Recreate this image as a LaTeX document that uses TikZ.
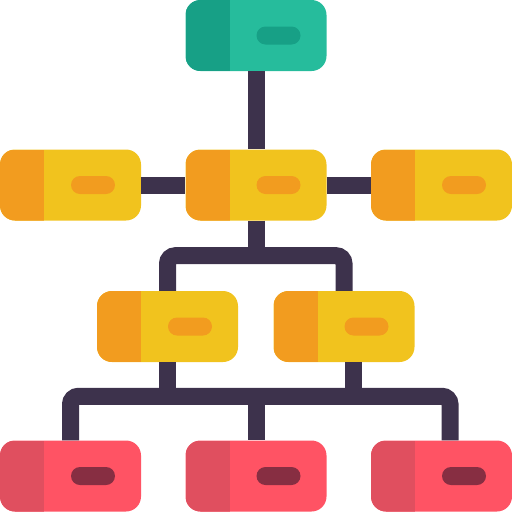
\documentclass[tikz,border=0pt]{standalone}
\usetikzlibrary{calc}
\definecolor{linkcol}{HTML}{3D324C}
\definecolor{greenmain}{HTML}{26BC9C}
\definecolor{greendark}{HTML}{17A086}
\definecolor{yellowmain}{HTML}{F1C31E}
\definecolor{orangedark}{HTML}{F29C1F}
\definecolor{redmain}{HTML}{FF5364}
\definecolor{reddark}{HTML}{E04F5F}
\definecolor{redpill}{HTML}{872E42}
\begin{document}
\begin{tikzpicture}[x=1pt,y=-1pt]
            \tikzset{
            org box/.style n args={3}{rectangle,rounded corners=15pt,minimum width=141pt,minimum height=71pt,inner sep=0,fill=#1,
              path picture={
                \fill[#2,sharp corners] (path picture bounding box.north west) rectangle ([xshift=44pt]path picture bounding box.south west);
                \fill[#3,rounded corners=9pt] ([xshift=71pt,yshift=-9pt]path picture bounding box.west) rectangle ++(44pt,18pt);
              }},
            org link/.style={draw=linkcol,line width=17pt,rounded corners=8pt}
            }
            \useasboundingbox (0,0) rectangle (512,512);
            \node[org box={greenmain}{greendark}{greendark}] (top) at (256, 35.5) {};
            \node[org box={yellowmain}{orangedark}{orangedark}] (l2) at (70.5, 185) {};
            \node[org box={yellowmain}{orangedark}{orangedark}] (c2) at (256, 185) {};
            \node[org box={yellowmain}{orangedark}{orangedark}] (r2) at (441.5, 185) {};
            \node[org box={yellowmain}{orangedark}{orangedark}] (l3) at (167.5, 326.5) {};
            \node[org box={yellowmain}{orangedark}{orangedark}] (r3) at (344, 326.5) {};
            \node[org box={redmain}{reddark}{redpill}] (l4) at (70.5, 476) {};
            \node[org box={redmain}{reddark}{redpill}] (c4) at (256, 476) {};
            \node[org box={redmain}{reddark}{redpill}] (r4) at (441.5, 476) {};

            \coordinate (j1) at ($(c2.south)+(0,35)$);
            \coordinate (j2) at ($(c4.north)+(0,-44)$);
            \coordinate (r3drop) at ([xshift=9pt]r3.south);
            \coordinate (r4drop) at ([xshift=8.5pt]r4.north);

            \draw[org link] (top.south) -- (c2.north);
            \draw[org link] (l2.east) -- (c2.west);
            \draw[org link] (c2.east) -- (r2.west);
            \draw[org link] (c2.south) -- (j1);
            \draw[org link] (l3.north) |- (j1) -| (r3.north);
            \draw[org link] (l3.south) -- (l3.south |- j2);
            \draw[org link] (r3drop) -- (r3drop |- j2);
            \draw[org link] (l4.north) |- (j2) -| (r4drop);
            \draw[org link] (j2) -- (c4.north);
        \end{tikzpicture}
\end{document}
